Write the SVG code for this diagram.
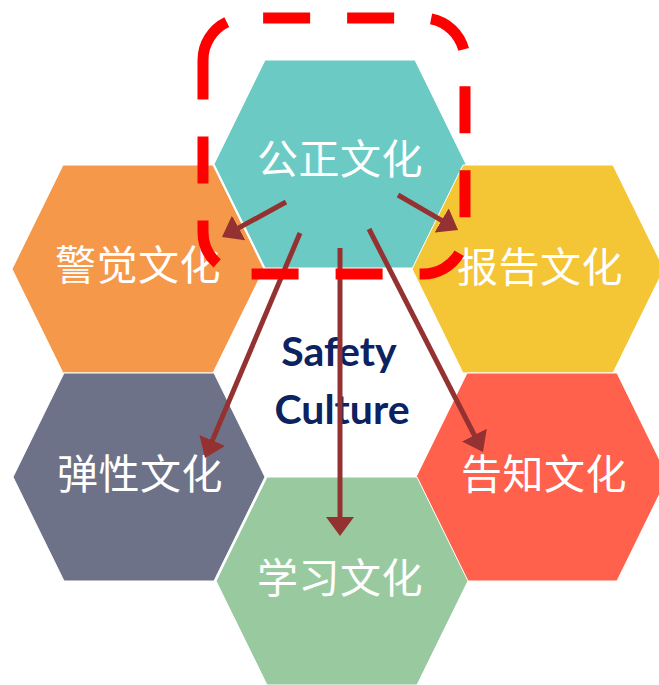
<svg xmlns="http://www.w3.org/2000/svg" width="659" height="685" viewBox="0 0 659 685">
  <style>
    .hex { stroke: #ffffff; stroke-width: 1; }
    .lbl { font-family: "Noto Sans CJK SC", "Noto Sans", sans-serif; font-size: 41px; fill: #ffffff; text-anchor: middle; letter-spacing: 0.5px; }
    .core { font-family: Lato, "Liberation Sans", sans-serif; font-weight: bold; font-size: 41px; fill: #0D2260; text-anchor: middle; }
    .arrow { stroke: #943232; stroke-width: 5; fill: none; marker-end: url(#ah); }
    .frame { stroke: #FF0000; stroke-width: 11; fill: none; stroke-dasharray: 47 37; }
  </style>
  <defs>
    <marker id="ah" viewBox="0 0 19 28" markerWidth="19" markerHeight="28" refX="1" refY="14" orient="auto" markerUnits="userSpaceOnUse">
      <path d="M0,0 L19,14 L0,28 z" fill="#943232"/>
    </marker>
  </defs>
  <rect width="659" height="685" fill="#ffffff"/>

  <g id="node-just">
    <polygon class="hex" fill="#6BCBC4" points="214,164 265,60 415,60 466,164 415,268 265,268"/>
    <text class="lbl" x="340" y="174">公正文化</text>
  </g>
  <g id="node-alert">
    <polygon class="hex" fill="#F5984A" points="12,269 63,165 213,165 264,269 213,373 63,373"/>
    <text class="lbl" x="138" y="280">警觉文化</text>
  </g>
  <g id="node-report">
    <polygon class="hex" fill="#F4C535" points="412,269 463,165 613,165 664,269 613,373 463,373"/>
    <text class="lbl" x="540" y="282">报告文化</text>
  </g>
  <g id="node-resilient">
    <polygon class="hex" fill="#6E7289" points="13,477 64,373 214,373 265,477 214,581 64,581"/>
    <text class="lbl" x="140" y="489">弹性文化</text>
  </g>
  <g id="node-inform">
    <polygon class="hex" fill="#FF614C" points="416,477 467,373 617,373 668,477 617,581 467,581"/>
    <text class="lbl" x="544" y="489">告知文化</text>
  </g>
  <g id="node-learn">
    <polygon class="hex" fill="#99CA9F" points="216,581 267,477 417,477 468,581 417,685 267,685"/>
    <text class="lbl" x="340" y="593">学习文化</text>
  </g>
  <g id="center">
    <text class="core" x="339" y="366">Safety</text>
    <text class="core" x="342" y="424">Culture</text>
  </g>

  <g id="connectors">
    <line class="arrow" x1="286" y1="202" x2="237.8" y2="228.4"/>
    <line class="arrow" x1="398" y1="195" x2="442.5" y2="220.9"/>
    <line class="arrow" x1="300" y1="233" x2="212" y2="441.4"/>
    <line class="arrow" x1="340" y1="248" x2="340" y2="518"/>
    <line class="arrow" x1="369" y1="229" x2="474.8" y2="436"/>
  </g>

  <g id="highlight">
    <path class="frame" d="M203,60 A42,42 0 0 1 245,18 H423 A42,42 0 0 1 465,60 V232 A42,42 0 0 1 423,274 H245 A42,42 0 0 1 203,232 Z"/>
  </g>
</svg>
